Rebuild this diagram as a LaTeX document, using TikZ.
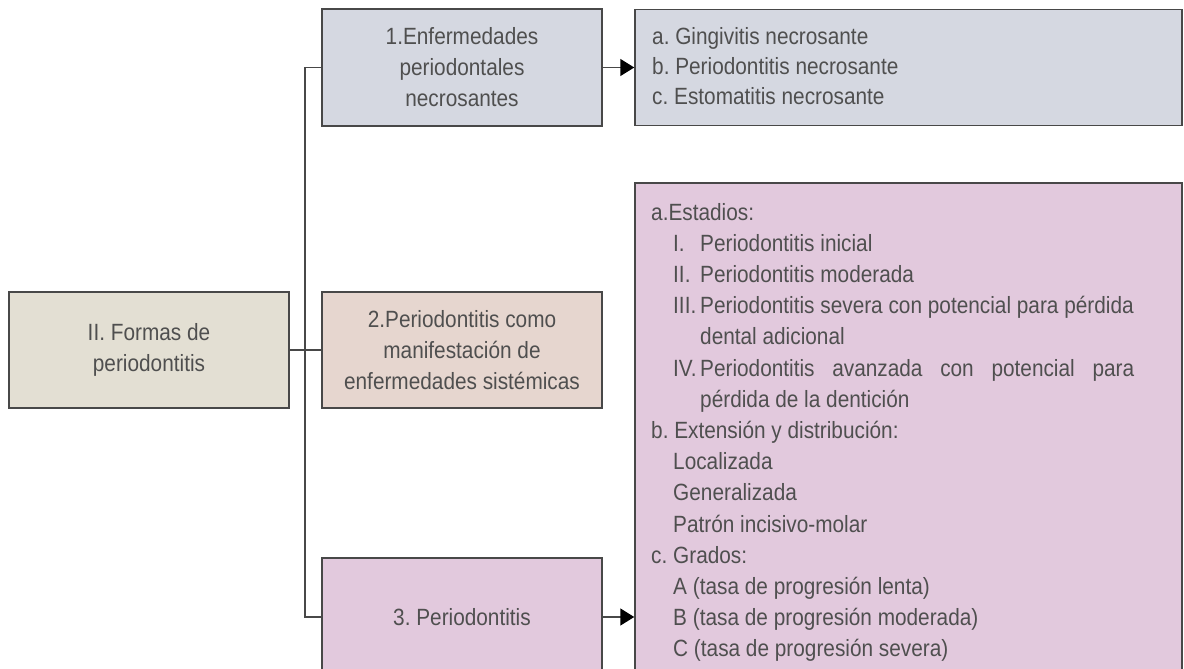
\documentclass[tikz,border=0pt]{standalone}
\usepackage{fontspec}
\setmainfont[FakeStretch=0.885]{Liberation Sans}
\usetikzlibrary{arrows.meta}
\definecolor{txt}{HTML}{4F4F4F}
\definecolor{edge}{HTML}{484848}
\definecolor{beige}{HTML}{E3DFD3}
\definecolor{bluegrey}{HTML}{D5D8E1}
\definecolor{rose}{HTML}{E6D6CF}
\definecolor{lilac}{HTML}{E2C9DD}
\tikzset{
  box/.style={draw=edge, line width=1.5pt, inner sep=0pt, text=txt, align=center,
    font=\fontsize{23.5}{31}\selectfont},
  item/.style={anchor=base west, inner sep=0pt, text=txt, font=\fontsize{23.5}{31}\selectfont},
  link/.style={draw=edge, line width=1.5pt},
  arr/.style={link, -{Triangle[length=14pt,width=17pt,color=black]}}
}
\begin{document}
\frenchspacing
\begin{tikzpicture}[x=1pt,y=-1pt]
\useasboundingbox (0,0) rectangle (1184,669);
\clip (0,0) rectangle (1184,669);
% boxes
\node[box, fill=beige, minimum width=280pt, minimum height=116pt] (root) at (149,350) {II. Formas de\\periodontitis};
\node[box, fill=bluegrey, minimum width=280pt, minimum height=117pt] (nec) at (462,67.5) {1.Enfermedades\\periodontales\\necrosantes};
\node[box, fill=rose, minimum width=280pt, minimum height=116pt] (sis) at (462,350) {2.Periodontitis como\\manifestación de\\enfermedades sistémicas};
\node[box, fill=lilac, minimum width=280pt, minimum height=118pt] (per) at (462,617) {3. Periodontitis};
\node[box, fill=bluegrey, minimum width=547pt, minimum height=116pt] (necl) at (908.5,67.5) {};
\node[box, fill=lilac, minimum width=547pt, minimum height=540pt] (perl) at (908.5,453) {};
% connectors
\coordinate (trunk) at (305,350);
\draw[link] (root.east) -- (sis.west);
\draw[link] (nec.west) -- (nec.west -| trunk) -- (per.west -| trunk) -- (per.west);
\draw[arr] (nec.east) -- (necl.west);
\draw[arr] (per.east) -- (per.east -| perl.west);
% list of box a
\node[item] (a1) at (652,45) {a. Gingivitis necrosante};
\node[item] (a2) at (652,75) {b. Periodontitis necrosante};
\node[item] (a3) at (652,105) {c. Estomatitis necrosante};
% list of big box
\node[item] (e0) at (651,220) {a.Estadios:};
\node[item] (e1n) at (673,251.2) {I.};
\node[item] (e1) at (700,251.2) {Periodontitis inicial};
\node[item] (e2n) at (673,282.4) {II.};
\node[item] (e2) at (700,282.4) {Periodontitis moderada};
\node[item] (e3n) at (673,313.6) {III.};
\node[item] (e3) at (700,313.6) {Periodontitis severa con potencial para pérdida};
\node[item] (e3b) at (700,344.8) {dental adicional};
\node[item] (e4n) at (673,376) {IV.};
\node[item] (e4) at (700,376) {\makebox[434pt][s]{Periodontitis avanzada con potencial para}};
\node[item] (e4b) at (700,407.2) {pérdida de la dentición};
\node[item] (x0) at (651,438.4) {b. Extensión y distribución:};
\node[item] (x1) at (673,469.6) {Localizada};
\node[item] (x2) at (673,500.8) {Generalizada};
\node[item] (x3) at (673,532) {Patrón incisivo-molar};
\node[item] (g0) at (651,563.2) {c. Grados:};
\node[item] (g1) at (673,594.4) {A (tasa de progresión lenta)};
\node[item] (g2) at (673,625.6) {B (tasa de progresión moderada)};
\node[item] (g3) at (673,656.8) {C (tasa de progresión severa)};
\end{tikzpicture}
\end{document}
